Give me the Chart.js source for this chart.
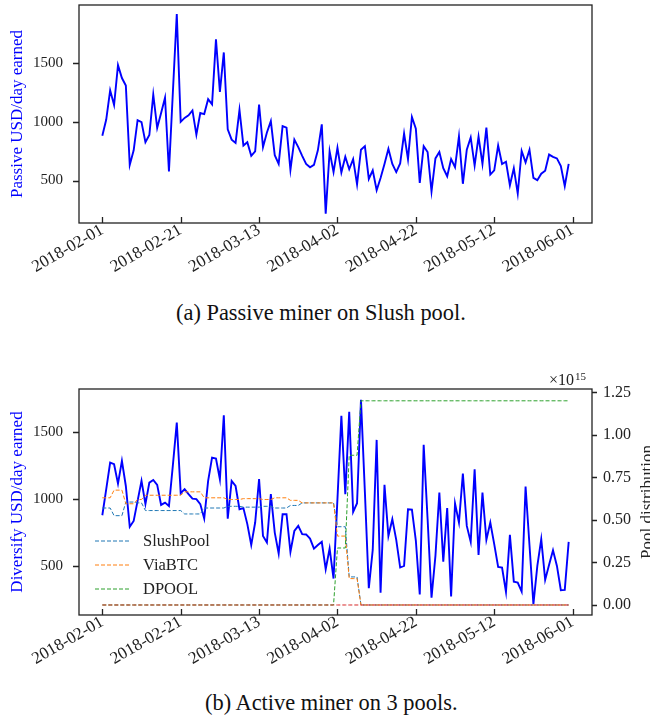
<!DOCTYPE html>
<html>
<head>
<meta charset="utf-8">
<title>Passive vs active miner</title>
<script src="https://cdn.jsdelivr.net/npm/chart.js@4.4.0/dist/chart.umd.min.js"></script>
<style>
  html, body { margin: 0; padding: 0; background: #fff; }
  body { width: 650px; height: 721px; position: relative; overflow: hidden; font-family: "Liberation Serif", serif; }
  .box { position: absolute; left: 0; width: 650px; }
  .cap { position: absolute; font-size: 22.4px; color: #111; white-space: nowrap; line-height: 24px; }
</style>
</head>
<body>
<div class="box" style="top:-20px;height:312px"><canvas id="chart1"></canvas></div>
<div class="cap" style="top:301px;left:176px">(a) Passive miner on Slush pool.</div>
<div class="box" style="top:340px;height:340px"><canvas id="chart2"></canvas></div>
<div class="cap" style="top:691px;left:205px">(b) Active miner on 3 pools.</div>
<script>
"use strict";

// x axis: one point per day from 2018-02-01
var xTickDays = [0, 20, 40, 60, 80, 100, 120];
var xTickLabels = ['2018-02-01', '2018-02-21', '2018-03-13', '2018-04-02', '2018-04-22', '2018-05-12', '2018-06-01'];
var usdTicks = [500, 1000, 1500];
var poolTicks = [0, 0.25, 0.5, 0.75, 1.0, 1.25];   // x 1e15
var poolNames = ['SlushPool', 'ViaBTC', 'DPOOL', 'Other'];

// (a) passive miner, USD/day
var passiveUsd = [
  881, 1019, 1268, 1143, 1483, 1373, 1309, 633, 757, 1014,
  997, 826, 887, 1232, 948, 1075, 1205, 577, 1250, 1918,
  1000, 1033, 1055, 1097, 890, 1075, 1066, 1193, 1149, 1702,
  1254, 1591, 936, 848, 820, 1102, 798, 826, 710, 749,
  1146, 784, 909, 1006, 716, 641, 964, 950, 591, 848,
  784, 710, 641, 613, 633, 757, 978, 218, 749, 572,
  779, 569, 702, 596, 682, 467, 762, 793, 513, 586,
  417, 522, 641, 770, 641, 572, 646, 900, 682, 1041,
  942, 480, 793, 743, 406, 688, 743, 605, 536, 682,
  613, 876, 472, 762, 867, 627, 873, 641, 950, 550,
  586, 798, 641, 660, 459, 605, 389, 751, 654, 762,
  522, 503, 558, 583, 721, 702, 688, 624, 453, 641
];

// (b) active miner, USD/day
var diversifyUsd = [
  878, 1072, 1270, 1258, 1114, 1283, 1096, 792, 836, 985,
  1134, 961, 1121, 1141, 1104, 955, 972, 947, 1250, 1568,
  1042, 1072, 1035, 1002, 998, 961, 853, 1134, 1307, 1300,
  1146, 1623, 853, 1134, 1096, 923, 931, 812, 657, 824,
  1148, 724, 675, 1035, 749, 593, 886, 886, 605, 761,
  799, 737, 735, 704, 630, 657, 680, 476, 630, 407,
  1000, 1618, 1035, 1648, 903, 968, 1737, 1050, 335, 620,
  1439, 302, 1104, 724, 849, 695, 489, 501, 923, 920,
  690, 288, 1402, 850, 265, 576, 1047, 533, 931, 273,
  965, 824, 1188, 799, 680, 1221, 583, 1047, 695, 824,
  663, 493, 489, 307, 732, 384, 377, 310, 1092, 655,
  216, 501, 700, 397, 509, 618, 501, 320, 322, 680
];

// pool distribution, x 1e15
var poolSlush = [
  0.57, 0.57, 0.57, 0.525, 0.525, 0.525, 0.605, 0.605, 0.605, 0.60,
  0.60, 0.555, 0.555, 0.555, 0.555, 0.555, 0.555, 0.555, 0.555, 0.555,
  0.555, 0.535, 0.535, 0.535, 0.535, 0.535, 0.57, 0.57, 0.57, 0.57,
  0.57, 0.57, 0.58, 0.58, 0.58, 0.58, 0.575, 0.575, 0.575, 0.575,
  0.575, 0.58, 0.58, 0.58, 0.57, 0.57, 0.57, 0.57, 0.585, 0.585,
  0.585, 0.60, 0.60, 0.60, 0.60, 0.60, 0.60, 0.60, 0.60, 0.60,
  0.46, 0.46, 0.46, 0.165, 0.165, 0.165, 0, 0, 0, 0,
  0, 0, 0, 0, 0, 0, 0, 0, 0, 0,
  0, 0, 0, 0, 0, 0, 0, 0, 0, 0,
  0, 0, 0, 0, 0, 0, 0, 0, 0, 0,
  0, 0, 0, 0, 0, 0, 0, 0, 0, 0,
  0, 0, 0, 0, 0, 0, 0, 0, 0, 0
];
var poolViaBTC = [
  0.63, 0.63, 0.63, 0.675, 0.675, 0.675, 0.595, 0.595, 0.595, 0.62,
  0.62, 0.645, 0.645, 0.645, 0.645, 0.645, 0.645, 0.645, 0.645, 0.645,
  0.645, 0.665, 0.665, 0.665, 0.665, 0.665, 0.63, 0.63, 0.63, 0.63,
  0.63, 0.63, 0.62, 0.62, 0.62, 0.62, 0.625, 0.625, 0.625, 0.625,
  0.625, 0.62, 0.62, 0.62, 0.63, 0.63, 0.63, 0.63, 0.615, 0.615,
  0.615, 0.60, 0.60, 0.60, 0.60, 0.60, 0.60, 0.60, 0.60, 0.60,
  0.405, 0.405, 0.405, 0.155, 0.155, 0.155, 0, 0, 0, 0,
  0, 0, 0, 0, 0, 0, 0, 0, 0, 0,
  0, 0, 0, 0, 0, 0, 0, 0, 0, 0,
  0, 0, 0, 0, 0, 0, 0, 0, 0, 0,
  0, 0, 0, 0, 0, 0, 0, 0, 0, 0,
  0, 0, 0, 0, 0, 0, 0, 0, 0, 0
];
var poolDPOOL = [
  0, 0, 0, 0, 0, 0, 0, 0, 0, 0,
  0, 0, 0, 0, 0, 0, 0, 0, 0, 0,
  0, 0, 0, 0, 0, 0, 0, 0, 0, 0,
  0, 0, 0, 0, 0, 0, 0, 0, 0, 0,
  0, 0, 0, 0, 0, 0, 0, 0, 0, 0,
  0, 0, 0, 0, 0, 0, 0, 0, 0, 0,
  0.335, 0.335, 0.335, 0.88, 0.88, 0.88, 1.2, 1.2, 1.2, 1.2,
  1.2, 1.2, 1.2, 1.2, 1.2, 1.2, 1.2, 1.2, 1.2, 1.2,
  1.2, 1.2, 1.2, 1.2, 1.2, 1.2, 1.2, 1.2, 1.2, 1.2,
  1.2, 1.2, 1.2, 1.2, 1.2, 1.2, 1.2, 1.2, 1.2, 1.2,
  1.2, 1.2, 1.2, 1.2, 1.2, 1.2, 1.2, 1.2, 1.2, 1.2,
  1.2, 1.2, 1.2, 1.2, 1.2, 1.2, 1.2, 1.2, 1.2, 1.2
];
var poolOther = [
  0, 0, 0, 0, 0, 0, 0, 0, 0, 0,
  0, 0, 0, 0, 0, 0, 0, 0, 0, 0,
  0, 0, 0, 0, 0, 0, 0, 0, 0, 0,
  0, 0, 0, 0, 0, 0, 0, 0, 0, 0,
  0, 0, 0, 0, 0, 0, 0, 0, 0, 0,
  0, 0, 0, 0, 0, 0, 0, 0, 0, 0,
  0, 0, 0, 0, 0, 0, 0, 0, 0, 0,
  0, 0, 0, 0, 0, 0, 0, 0, 0, 0,
  0, 0, 0, 0, 0, 0, 0, 0, 0, 0,
  0, 0, 0, 0, 0, 0, 0, 0, 0, 0,
  0, 0, 0, 0, 0, 0, 0, 0, 0, 0,
  0, 0, 0, 0, 0, 0, 0, 0, 0, 0
];

var SERIF = '"Liberation Serif", "Times New Roman", serif';
var INK = '#222';

function points(arr) {
  return arr.map(function(v, i) { return {x: i, y: v}; });
}

function xAxis(height) {
  return {
    type: 'linear', min: -5.95, max: 124.95,
    grid: {display: false, drawTicks: false},
    border: {display: false},
    afterBuildTicks: function(s) { s.ticks = xTickDays.map(function(v) { return {value: v}; }); },
    afterFit: function(s) { s.height = height; },
    ticks: {
      autoSkip: false, minRotation: 30, maxRotation: 30, padding: -3,
      color: INK, font: {family: SERIF, size: 17},
      callback: function(v) { return xTickLabels[xTickDays.indexOf(v)]; }
    }
  };
}

function usdAxis(min, max, title) {
  return {
    position: 'left', min: min, max: max,
    grid: {display: false, drawTicks: false},
    border: {display: false},
    afterBuildTicks: function(s) { s.ticks = usdTicks.map(function(v) { return {value: v}; }); },
    afterFit: function(s) { s.width = 79; },
    ticks: {padding: 16, color: INK, font: {family: SERIF, size: 15},
      callback: function(v) { return String(v); }},
    title: {display: true, text: title, color: '#0000ff', padding: {top: 7}, font: {family: SERIF, size: 17}}
  };
}

// frame, tick marks, legend and the extra texts matplotlib puts around the axes
var axisDecor = {
  id: 'axisDecor',
  afterDraw: function(chart, args, opts) {
    var ctx = chart.ctx, a = chart.chartArea, sc = chart.scales;
    ctx.save();
    ctx.strokeStyle = INK;
    ctx.lineWidth = 1.3;
    ctx.strokeRect(a.left, a.top, a.right - a.left, a.bottom - a.top);
    ctx.beginPath();
    sc.x.ticks.forEach(function(t) {
      var px = Math.round(sc.x.getPixelForValue(t.value)) + 0.5;
      ctx.moveTo(px, a.bottom); ctx.lineTo(px, a.bottom - 6);
    });
    sc.y.ticks.forEach(function(t) {
      var py = Math.round(sc.y.getPixelForValue(t.value)) + 0.5;
      ctx.moveTo(a.left, py); ctx.lineTo(a.left - 6, py);
    });
    if (sc.y2) {
      sc.y2.ticks.forEach(function(t) {
        var py = Math.round(sc.y2.getPixelForValue(t.value)) + 0.5;
        ctx.moveTo(a.right, py); ctx.lineTo(a.right + 5, py);
      });
    }
    ctx.stroke();

    if (opts.legend) {
      var y0 = a.top + 152;
      chart.data.datasets.forEach(function(ds) {
        if (opts.legend.indexOf(ds.label) < 0) return;
        var row = opts.legend.indexOf(ds.label);
        var y = y0 + row * 24;
        ctx.strokeStyle = ds.borderColor;
        ctx.lineWidth = ds.borderWidth;
        ctx.setLineDash(ds.borderDash || []);
        ctx.beginPath(); ctx.moveTo(95, y); ctx.lineTo(129, y); ctx.stroke();
        ctx.setLineDash([]);
        ctx.fillStyle = INK;
        ctx.font = '16.5px ' + SERIF;
        ctx.textBaseline = 'middle';
        ctx.fillText(ds.label, 143, y + 1);
      });
    }

    if (opts.rightTitle) {
      ctx.fillStyle = INK;
      ctx.font = '17px ' + SERIF;
      ctx.textAlign = 'center';
      ctx.textBaseline = 'top';
      ctx.translate(639, (a.top + a.bottom) / 2);
      ctx.rotate(-Math.PI / 2);
      ctx.fillText(opts.rightTitle, 0, 0);
      ctx.setTransform(1, 0, 0, 1, 0, 0);
    }

    if (opts.offsetText) {
      ctx.fillStyle = INK;
      ctx.textAlign = 'left';
      ctx.textBaseline = 'alphabetic';
      ctx.font = '16px ' + SERIF;
      ctx.fillText('\u00d710', 549, a.top - 4);
      ctx.font = '11px ' + SERIF;
      ctx.fillText(opts.offsetText, 575, a.top - 9);
    }
    ctx.restore();
  }
};

// chart1
var ctx1 = document.getElementById('chart1').getContext('2d');
var chart1 = new Chart(ctx1, {
  type: 'line',
  data: {
    datasets: [{
      label: 'Passive',
      data: points(passiveUsd),
      borderColor: '#0000ff',
      borderWidth: 1.9,
      pointRadius: 0,
      tension: 0
    }]
  },
  options: {
    responsive: true,
    maintainAspectRatio: false,
    animation: false,
    events: [],
    layout: {padding: {top: 19, right: 58, left: 0, bottom: 0}},
    plugins: {legend: {display: false}, tooltip: {enabled: false}, axisDecor: {}},
    scales: {
      x: xAxis(69),
      y: usdAxis(138, 1995, 'Passive USD/day earned')
    }
  },
  plugins: [axisDecor]
});

// chart2
var ctx2 = document.getElementById('chart2').getContext('2d');
function poolLine(label, data, color, order) {
  return {
    label: label, data: points(data), yAxisID: 'y2',
    borderColor: color, borderWidth: 1, borderDash: [4, 2],
    pointRadius: 0, tension: 0, order: order
  };
}
var chart2 = new Chart(ctx2, {
  type: 'line',
  data: {
    datasets: [
      {
        label: 'Diversify',
        data: points(diversifyUsd),
        yAxisID: 'y',
        borderColor: '#0000ff',
        borderWidth: 1.9,
        pointRadius: 0,
        tension: 0,
        order: 5
      },
      poolLine(poolNames[0], poolSlush, '#1f77b4', 4),
      poolLine(poolNames[1], poolViaBTC, '#ff7f0e', 3),
      poolLine(poolNames[2], poolDPOOL, '#2ca02c', 2),
      poolLine(poolNames[3], poolOther, '#d62728', 1)
    ]
  },
  options: {
    responsive: true,
    maintainAspectRatio: false,
    animation: false,
    events: [],
    layout: {padding: {top: 49, right: 0, left: 0, bottom: 0}},
    plugins: {
      legend: {display: false},
      tooltip: {enabled: false},
      axisDecor: {legend: poolNames.slice(0, 3), rightTitle: 'Pool distribution', offsetText: '15'}
    },
    scales: {
      x: xAxis(65),
      y: usdAxis(135.5, 1818, 'Diversify USD/day earned'),
      y2: {
        position: 'right', min: -0.0588, max: 1.2694,
        grid: {display: false, drawTicks: false},
        border: {display: false},
        afterBuildTicks: function(s) { s.ticks = poolTicks.map(function(v) { return {value: v}; }); },
        afterFit: function(s) { s.width = 58; },
        ticks: {
          padding: 11, color: INK, font: {family: SERIF, size: 16},
          callback: function(v) { return v.toFixed(2); }
        }
      }
    }
  },
  plugins: [axisDecor]
});
</script>
</body>
</html>
